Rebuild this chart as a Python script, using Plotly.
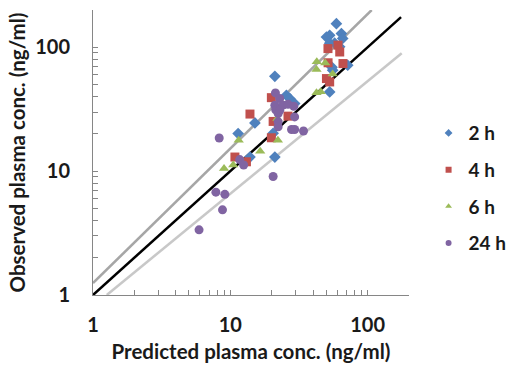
import plotly.graph_objects as go

# ---- data (predicted, observed) ----
h2_x = [59.2, 52.9, 50.1, 64.4, 65.8, 52.9, 57.5, 62.5, 71.6, 55.6, 55.0, 52.9,
        21.1, 25.6, 27.1, 29.4, 15.1, 11.4, 13.9, 21.1, 20.5]
h2_y = [155, 125, 121, 129, 118, 108, 108, 101, 71.6, 65.3, 69, 43.6,
        58.3, 41.0, 38.6, 35.1, 24.5, 20.1, 13.0, 13.0, 20.2]

h4_x = [51.4, 60.8, 62.6, 51.5, 66.1, 50.1, 52.9, 19.9, 13.9, 20.5, 26.3, 19.9, 10.8, 13.1]
h4_y = [97.6, 104, 91.6, 75.0, 73.9, 55.9, 52.5, 39.2, 28.9, 25.2, 27.8, 18.6, 13.0, 11.9]

h6_x = [42.6, 49.1, 42.4, 55.6, 42.4, 45.5, 11.5, 22.0, 22.2, 16.5, 9.0, 10.5]
h6_y = [76.4, 74.6, 66.2, 60.9, 43.0, 43.8, 17.8, 26.6, 17.8, 14.5, 10.5, 11.2]

h24_x = [21.3, 22.9, 21.1, 24.2, 26.3, 29.0, 21.4, 22.9, 22.3, 29.4, 22.3, 22.3,
         27.9, 29.4, 34.1, 8.3, 11.7, 12.5, 20.5, 7.85, 9.12, 8.77, 5.92]
h24_y = [42.8, 38.6, 34.1, 34.1, 34.7, 33.4, 31.3, 31.0, 29.2, 27.4, 25.0, 22.8,
         21.7, 21.7, 21.1, 18.5, 12.4, 11.2, 9.06, 6.77, 6.50, 4.87, 3.36]

series_names = ["2 h", "4 h", "6 h", "24 h"]
series_colors = ["#4F81BD", "#C0504D", "#9BBB59", "#8064A2"]
series_symbols = ["diamond", "square", "triangle-up", "circle"]

# reference lines (endpoints)
unity_x = [1, 175]
unity_y = [1, 175]
upper_x = [1, 107]
upper_y = [1.25, 200]
lower_x = [1.26, 177]
lower_y = [1, 89.5]

tick_vals = [1, 2, 3, 4, 5, 6, 7, 8, 9, 10, 20, 30, 40, 50, 60, 70, 80, 90, 100, 200]
tick_text = ["1", "", "", "", "", "", "", "", "", "10", "", "", "", "", "", "", "", "", "100", ""]

FONT = "Lato"
TXT = "#1a1a1a"

fig = go.Figure()

fig.add_trace(go.Scatter(x=upper_x, y=upper_y, mode="lines",
                         line=dict(color="#A6A6A6", width=2.5), showlegend=False, hoverinfo="skip"))
fig.add_trace(go.Scatter(x=lower_x, y=lower_y, mode="lines",
                         line=dict(color="#C8C8C8", width=2.5), showlegend=False, hoverinfo="skip"))
fig.add_trace(go.Scatter(x=unity_x, y=unity_y, mode="lines",
                         line=dict(color="#000000", width=2.5), showlegend=False, hoverinfo="skip"))

data = [(h2_x, h2_y), (h4_x, h4_y), (h6_x, h6_y), (h24_x, h24_y)]
for (xs, ys), name, col, sym in zip(data, series_names, series_colors, series_symbols):
    fig.add_trace(go.Scatter(x=xs, y=ys, mode="markers", name=name,
                             marker=dict(color=col, symbol=sym, size=9, line=dict(width=0)),
                             showlegend=False))
for name, col, sym in zip(series_names, series_colors, series_symbols):
    fig.add_trace(go.Scatter(x=[None], y=[None], mode="markers", name=name,
                             legendgroup=name,
                             marker=dict(color=col, symbol=sym, size=6, line=dict(width=0)),
                             showlegend=True))

axis_common = dict(
    type="log",
    range=[0, 2.30103],
    tickmode="array",
    tickvals=tick_vals,
    ticktext=tick_text,
    ticks="inside",
    ticklen=5,
    tickcolor="#868686",
    showline=True,
    linecolor="#868686",
    linewidth=1,
    showgrid=False,
    zeroline=False,
    automargin=False,
    tickfont=dict(family=FONT, size=20, color=TXT, weight="bold"),
)

fig.update_layout(
    width=509, height=366,
    margin=dict(l=93, r=100, t=10, b=71, autoexpand=False),
    plot_bgcolor="white", paper_bgcolor="white",
    xaxis=dict(**axis_common,
               title=dict(text="Predicted plasma conc. (ng/ml)", standoff=9,
                          font=dict(family=FONT, size=20.5, color=TXT, weight="bold")),
               ticklabelstandoff=12),
    yaxis=dict(**axis_common,
               title=dict(text="Observed plasma conc. (ng/ml)", standoff=4,
                          font=dict(family=FONT, size=20.5, color=TXT, weight="bold")),
               ticklabelstandoff=18),
    legend=dict(xref="container", yref="container", x=0.842, y=0.486,
                xanchor="left", yanchor="middle",
                font=dict(family=FONT, size=19, color=TXT, weight="bold"),
                tracegroupgap=9, bgcolor="rgba(0,0,0,0)", itemwidth=30),
)

fig.write_html("out.html", config={"displayModeBar": False},
               post_script="document.body.style.margin='0';")
